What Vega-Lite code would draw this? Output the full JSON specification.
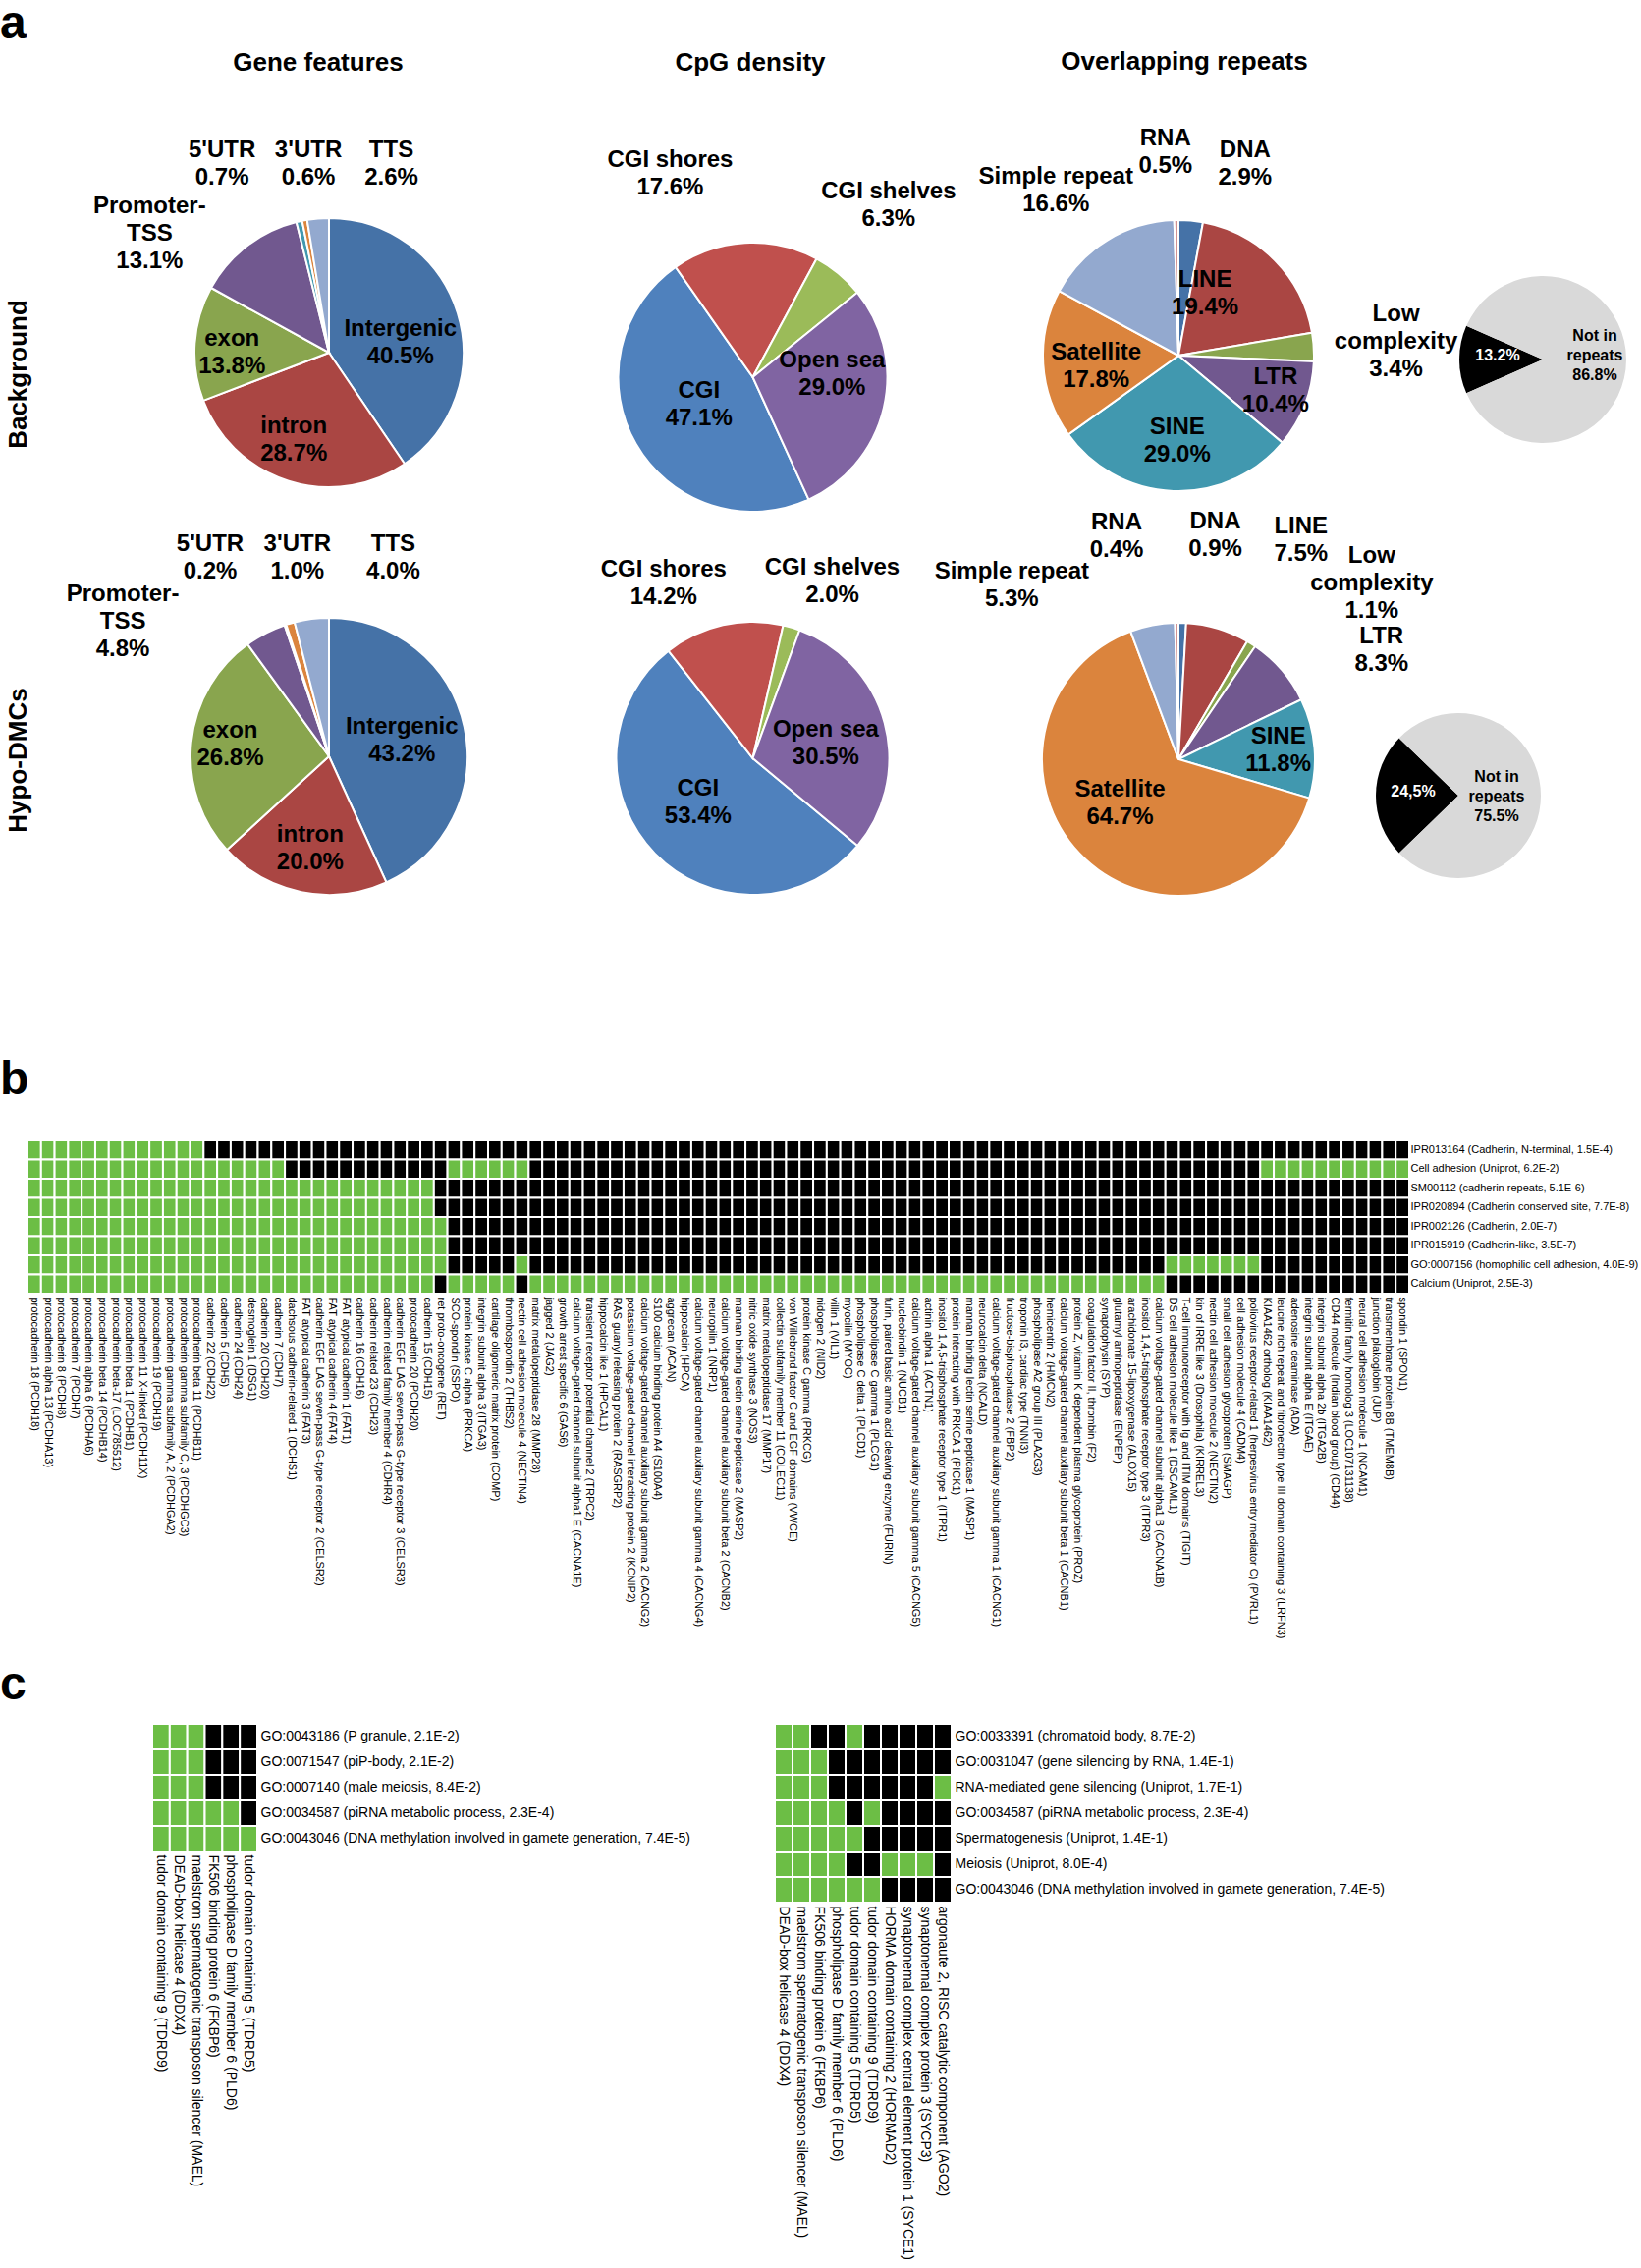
{
"$schema": "https://vega.github.io/schema/vega-lite/v6.json",
"background": "white",
"padding": 0,
"config": {
  "view": {"stroke": null},
  "font": "Liberation Sans",
  "axis": {"domain": false, "ticks": false, "grid": false, "labelColor": "#000000", "labelFont": "Liberation Sans"},
  "title": {"color": "#000000", "font": "Liberation Sans", "fontWeight": "bold"},
  "text": {"fontSize": 24, "fontWeight": "bold", "lineBreak": "\n", "lineHeight": 28}
},
"spacing": 0,
"bounds": "full",
"resolve": {"scale": {"color": "independent", "theta": "independent", "x": "independent", "y": "independent"}},
"vconcat": [
{
  "spacing": 0,
  "bounds": "flush",
  "resolve": {"scale": {"color": "independent", "theta": "independent", "x": "independent", "y": "independent"}},
  "hconcat": [
    {
      "width": 54, "height": 953,
      "title": {"text": "a", "anchor": "start", "frame": "group", "offset": 14.1, "baseline": "alphabetic", "fontSize": 48},
      "data": {"values": [{"set": "Background"}, {"set": "Hypo-DMCs"}]},
      "mark": {"type": "text", "angle": 270, "fontSize": 26, "fontWeight": "bold", "baseline": "alphabetic", "align": "center"},
      "encoding": {
        "y": {"field": "set", "type": "nominal", "scale": {"type": "point", "padding": 0.7125, "domain": ["Background", "Hypo-DMCs"]}, "axis": null},
        "text": {"field": "set", "type": "nominal"}
      }
    },
    {
      "width": 562, "height": 927,
      "title": {"text": "Gene features", "frame": "group", "offset": 3, "baseline": "alphabetic", "fontSize": 26, "dx": -11},
      "data": {"values": [
        {"set": "Background", "name": "Intergenic", "v": 40.5, "i": 1, "lab": "Intergenic\n40.5%"},
        {"set": "Background", "name": "intron", "v": 28.7, "i": 2, "lab": "intron\n28.7%"},
        {"set": "Background", "name": "exon", "v": 13.8, "i": 3, "lab": "exon\n13.8%"},
        {"set": "Background", "name": "Promoter-TSS", "v": 13.1, "i": 4, "lab": "Promoter-\nTSS\n13.1%"},
        {"set": "Background", "name": "5'UTR", "v": 0.7, "i": 5, "lab": "5'UTR\n0.7%"},
        {"set": "Background", "name": "3'UTR", "v": 0.6, "i": 6, "lab": "3'UTR\n0.6%"},
        {"set": "Background", "name": "TTS", "v": 2.6, "i": 7, "lab": "TTS\n2.6%"},
        {"set": "Hypo-DMCs", "name": "Intergenic", "v": 43.2, "i": 1, "lab": "Intergenic\n43.2%"},
        {"set": "Hypo-DMCs", "name": "intron", "v": 20.0, "i": 2, "lab": "intron\n20.0%"},
        {"set": "Hypo-DMCs", "name": "exon", "v": 26.8, "i": 3, "lab": "exon\n26.8%"},
        {"set": "Hypo-DMCs", "name": "Promoter-TSS", "v": 4.8, "i": 4, "lab": "Promoter-\nTSS\n4.8%"},
        {"set": "Hypo-DMCs", "name": "5'UTR", "v": 0.2, "i": 5, "lab": "5'UTR\n0.2%"},
        {"set": "Hypo-DMCs", "name": "3'UTR", "v": 1.0, "i": 6, "lab": "3'UTR\n1.0%"},
        {"set": "Hypo-DMCs", "name": "TTS", "v": 4.0, "i": 7, "lab": "TTS\n4.0%"}
      ]},
      "encoding": {
        "y": {"field": "set", "type": "nominal", "scale": {"type": "point", "padding": 0.62774, "domain": ["Background", "Hypo-DMCs"]}, "axis": null}
      },
      "resolve": {"scale": {"theta": "independent"}},
      "layer": [
        {
          "transform": [{"filter": "datum.set === 'Background'"}],
          "encoding": {
            "theta": {"field": "v", "type": "quantitative", "stack": true, "scale": {"range": [0, 6.28319], "nice": false}},
            "order": {"field": "i", "type": "quantitative"}
          },
          "layer": [
            {"mark": {"type": "arc", "outerRadius": 137, "stroke": "white", "strokeWidth": 2},
             "encoding": {"color": {"field": "name", "type": "nominal", "legend": null, "scale": {"domain": ["Intergenic", "intron", "exon", "Promoter-TSS", "5'UTR", "3'UTR", "TTS"], "range": ["#4572A7", "#AA4643", "#89A54E", "#71588F", "#4198AF", "#DB843D", "#93A9CF"]}}}},
            {"mark": {"type": "text", "radius": 73, "dx": 3, "dy": -3},
             "encoding": {"detail": {"field": "name", "type": "nominal"}, "text": {"condition": {"test": "datum.i === 1", "field": "lab"}, "value": ""}}},
            {"mark": {"type": "text", "radius": 96, "dx": -7, "dy": -17},
             "encoding": {"detail": {"field": "name", "type": "nominal"}, "text": {"condition": {"test": "datum.i === 2", "field": "lab"}, "value": ""}}},
            {"mark": {"type": "text", "radius": 99, "dx": 0, "dy": -7},
             "encoding": {"detail": {"field": "name", "type": "nominal"}, "text": {"condition": {"test": "datum.i === 3", "field": "lab"}, "value": ""}}},
            {"mark": {"type": "text", "radius": 219, "dx": -49, "dy": 24},
             "encoding": {"detail": {"field": "name", "type": "nominal"}, "text": {"condition": {"test": "datum.i === 4", "field": "lab"}, "value": ""}}},
            {"mark": {"type": "text", "radius": 221, "dx": -60, "dy": 10},
             "encoding": {"detail": {"field": "name", "type": "nominal"}, "text": {"condition": {"test": "datum.i === 5", "field": "lab"}, "value": ""}}},
            {"mark": {"type": "text", "radius": 193, "dx": 14, "dy": -16},
             "encoding": {"detail": {"field": "name", "type": "nominal"}, "text": {"condition": {"test": "datum.i === 6", "field": "lab"}, "value": ""}}},
            {"mark": {"type": "text", "radius": 202, "dx": 80, "dy": -5},
             "encoding": {"detail": {"field": "name", "type": "nominal"}, "text": {"condition": {"test": "datum.i === 7", "field": "lab"}, "value": ""}}}
          ]
        },
        {
          "transform": [{"filter": "datum.set === 'Hypo-DMCs'"}],
          "encoding": {
            "theta": {"field": "v", "type": "quantitative", "stack": true, "scale": {"range": [0, 6.28319], "nice": false}},
            "order": {"field": "i", "type": "quantitative"}
          },
          "layer": [
            {"mark": {"type": "arc", "outerRadius": 141, "stroke": "white", "strokeWidth": 2},
             "encoding": {"color": {"field": "name", "type": "nominal", "legend": null, "scale": {"domain": ["Intergenic", "intron", "exon", "Promoter-TSS", "5'UTR", "3'UTR", "TTS"], "range": ["#4572A7", "#AA4643", "#89A54E", "#71588F", "#4198AF", "#DB843D", "#93A9CF"]}}}},
            {"mark": {"type": "text", "radius": 76, "dx": 0, "dy": -14},
             "encoding": {"detail": {"field": "name", "type": "nominal"}, "text": {"condition": {"test": "datum.i === 1", "field": "lab"}, "value": ""}}},
            {"mark": {"type": "text", "radius": 96, "dx": 0, "dy": -14},
             "encoding": {"detail": {"field": "name", "type": "nominal"}, "text": {"condition": {"test": "datum.i === 2", "field": "lab"}, "value": ""}}},
            {"mark": {"type": "text", "radius": 101, "dx": 0, "dy": -16},
             "encoding": {"detail": {"field": "name", "type": "nominal"}, "text": {"condition": {"test": "datum.i === 3", "field": "lab"}, "value": ""}}},
            {"mark": {"type": "text", "radius": 150, "dx": -141, "dy": -32},
             "encoding": {"detail": {"field": "name", "type": "nominal"}, "text": {"condition": {"test": "datum.i === 4", "field": "lab"}, "value": ""}}},
            {"mark": {"type": "text", "radius": 235, "dx": -47, "dy": 7},
             "encoding": {"detail": {"field": "name", "type": "nominal"}, "text": {"condition": {"test": "datum.i === 5", "field": "lab"}, "value": ""}}},
            {"mark": {"type": "text", "radius": 205, "dx": 25, "dy": -19},
             "encoding": {"detail": {"field": "name", "type": "nominal"}, "text": {"condition": {"test": "datum.i === 6", "field": "lab"}, "value": ""}}},
            {"mark": {"type": "text", "radius": 212, "dx": 92, "dy": -6},
             "encoding": {"detail": {"field": "name", "type": "nominal"}, "text": {"condition": {"test": "datum.i === 7", "field": "lab"}, "value": ""}}}
          ]
        }
      ]
    },
    {
      "width": 301, "height": 954,
      "title": {"text": "CpG density", "frame": "group", "offset": 3, "baseline": "alphabetic", "fontSize": 26, "dx": -2.5},
      "data": {"values": [
        {"set": "Background", "name": "CGI", "v": 47.1, "i": 1, "lab": "CGI\n47.1%"},
        {"set": "Background", "name": "CGI shores", "v": 17.6, "i": 2, "lab": "CGI shores\n17.6%"},
        {"set": "Background", "name": "CGI shelves", "v": 6.3, "i": 3, "lab": "CGI shelves\n6.3%"},
        {"set": "Background", "name": "Open sea", "v": 29.0, "i": 4, "lab": "Open sea\n29.0%"},
        {"set": "Hypo-DMCs", "name": "CGI", "v": 53.4, "i": 1, "lab": "CGI\n53.4%"},
        {"set": "Hypo-DMCs", "name": "CGI shores", "v": 14.2, "i": 2, "lab": "CGI shores\n14.2%"},
        {"set": "Hypo-DMCs", "name": "CGI shelves", "v": 2.0, "i": 3, "lab": "CGI shelves\n2.0%"},
        {"set": "Hypo-DMCs", "name": "Open sea", "v": 30.5, "i": 4, "lab": "Open sea\n30.5%"}
      ]},
      "encoding": {
        "y": {"field": "set", "type": "nominal", "scale": {"type": "point", "padding": 0.72938, "domain": ["Background", "Hypo-DMCs"]}, "axis": null}
      },
      "resolve": {"scale": {"theta": "independent"}},
      "layer": [
        {
          "transform": [{"filter": "datum.set === 'Background'"}],
          "encoding": {
            "theta": {"field": "v", "type": "quantitative", "stack": true, "scale": {"range": [2.7123, 8.9955], "nice": false}},
            "order": {"field": "i", "type": "quantitative"}
          },
          "layer": [
            {"mark": {"type": "arc", "outerRadius": 137, "stroke": "white", "strokeWidth": 2},
             "encoding": {"color": {"field": "name", "type": "nominal", "legend": null, "scale": {"domain": ["CGI", "CGI shores", "CGI shelves", "Open sea"], "range": ["#4F81BD", "#C0504D", "#9BBB59", "#8064A2"]}}}},
            {"mark": {"type": "text", "radius": 62, "dx": -1, "dy": -17},
             "encoding": {"detail": {"field": "name", "type": "nominal"}, "text": {"condition": {"test": "datum.i === 1", "field": "lab"}, "value": ""}}},
            {"mark": {"type": "text", "radius": 223, "dx": -71, "dy": 2},
             "encoding": {"detail": {"field": "name", "type": "nominal"}, "text": {"condition": {"test": "datum.i === 2", "field": "lab"}, "value": ""}}},
            {"mark": {"type": "text", "radius": 223, "dx": -4, "dy": -17},
             "encoding": {"detail": {"field": "name", "type": "nominal"}, "text": {"condition": {"test": "datum.i === 3", "field": "lab"}, "value": ""}}},
            {"mark": {"type": "text", "radius": 81, "dx": 2, "dy": -36},
             "encoding": {"detail": {"field": "name", "type": "nominal"}, "text": {"condition": {"test": "datum.i === 4", "field": "lab"}, "value": ""}}}
          ]
        },
        {
          "transform": [{"filter": "datum.set === 'Hypo-DMCs'"}],
          "encoding": {
            "theta": {"field": "v", "type": "quantitative", "stack": true, "scale": {"range": [2.2654, 8.5486], "nice": false}},
            "order": {"field": "i", "type": "quantitative"}
          },
          "layer": [
            {"mark": {"type": "arc", "outerRadius": 139, "stroke": "white", "strokeWidth": 2},
             "encoding": {"color": {"field": "name", "type": "nominal", "legend": null, "scale": {"domain": ["CGI", "CGI shores", "CGI shelves", "Open sea"], "range": ["#4F81BD", "#C0504D", "#9BBB59", "#8064A2"]}}}},
            {"mark": {"type": "text", "radius": 72, "dx": -4, "dy": -19},
             "encoding": {"detail": {"field": "name", "type": "nominal"}, "text": {"condition": {"test": "datum.i === 1", "field": "lab"}, "value": ""}}},
            {"mark": {"type": "text", "radius": 200, "dx": -47, "dy": 3},
             "encoding": {"detail": {"field": "name", "type": "nominal"}, "text": {"condition": {"test": "datum.i === 2", "field": "lab"}, "value": ""}}},
            {"mark": {"type": "text", "radius": 197, "dx": 25, "dy": -5},
             "encoding": {"detail": {"field": "name", "type": "nominal"}, "text": {"condition": {"test": "datum.i === 3", "field": "lab"}, "value": ""}}},
            {"mark": {"type": "text", "radius": 76, "dx": 1, "dy": -9},
             "encoding": {"detail": {"field": "name", "type": "nominal"}, "text": {"condition": {"test": "datum.i === 4", "field": "lab"}, "value": ""}}}
          ]
        }
      ]
    },
    {
      "width": 566, "height": 933,
      "title": {"text": "Overlapping repeats", "frame": "group", "offset": 3, "baseline": "alphabetic", "fontSize": 26, "dx": 6},
      "data": {"values": [
        {"set": "Background", "name": "DNA", "v": 2.9, "i": 1, "lab": "DNA\n2.9%"},
        {"set": "Background", "name": "LINE", "v": 19.4, "i": 2, "lab": "LINE\n19.4%"},
        {"set": "Background", "name": "Low complexity", "v": 3.4, "i": 3, "lab": "Low\ncomplexity\n3.4%"},
        {"set": "Background", "name": "LTR", "v": 10.4, "i": 4, "lab": "LTR\n10.4%"},
        {"set": "Background", "name": "SINE", "v": 29.0, "i": 5, "lab": "SINE\n29.0%"},
        {"set": "Background", "name": "Satellite", "v": 17.8, "i": 6, "lab": "Satellite\n17.8%"},
        {"set": "Background", "name": "Simple repeat", "v": 16.6, "i": 7, "lab": "Simple repeat\n16.6%"},
        {"set": "Background", "name": "RNA", "v": 0.5, "i": 8, "lab": "RNA\n0.5%"},
        {"set": "Hypo-DMCs", "name": "DNA", "v": 0.9, "i": 1, "lab": "DNA\n0.9%"},
        {"set": "Hypo-DMCs", "name": "LINE", "v": 7.5, "i": 2, "lab": "LINE\n7.5%"},
        {"set": "Hypo-DMCs", "name": "Low complexity", "v": 1.1, "i": 3, "lab": "Low\ncomplexity\n1.1%"},
        {"set": "Hypo-DMCs", "name": "LTR", "v": 8.3, "i": 4, "lab": "LTR\n8.3%"},
        {"set": "Hypo-DMCs", "name": "SINE", "v": 11.8, "i": 5, "lab": "SINE\n11.8%"},
        {"set": "Hypo-DMCs", "name": "Satellite", "v": 64.7, "i": 6, "lab": "Satellite\n64.7%"},
        {"set": "Hypo-DMCs", "name": "Simple repeat", "v": 5.3, "i": 7, "lab": "Simple repeat\n5.3%"},
        {"set": "Hypo-DMCs", "name": "RNA", "v": 0.4, "i": 8, "lab": "RNA\n0.4%"}
      ]},
      "encoding": {
        "y": {"field": "set", "type": "nominal", "scale": {"type": "point", "padding": 0.63504, "domain": ["Background", "Hypo-DMCs"]}, "axis": null}
      },
      "resolve": {"scale": {"theta": "independent"}},
      "layer": [
        {
          "transform": [{"filter": "datum.set === 'Background'"}],
          "encoding": {
            "theta": {"field": "v", "type": "quantitative", "stack": true, "scale": {"range": [0, 6.28319], "nice": false}},
            "order": {"field": "i", "type": "quantitative"}
          },
          "layer": [
            {"mark": {"type": "arc", "outerRadius": 138, "stroke": "white", "strokeWidth": 2},
             "encoding": {"color": {"field": "name", "type": "nominal", "legend": null, "scale": {"domain": ["DNA", "LINE", "Low complexity", "LTR", "SINE", "Satellite", "Simple repeat", "RNA"], "range": ["#4572A7", "#AA4643", "#89A54E", "#71588F", "#4198AF", "#DB843D", "#93A9CF", "#D19392"]}}}},
            {"mark": {"type": "text", "radius": 207, "dx": 49, "dy": -3},
             "encoding": {"detail": {"field": "name", "type": "nominal"}, "text": {"condition": {"test": "datum.i === 1", "field": "lab"}, "value": ""}}},
            {"mark": {"type": "text", "radius": 69, "dx": -22, "dy": -29},
             "encoding": {"detail": {"field": "name", "type": "nominal"}, "text": {"condition": {"test": "datum.i === 2", "field": "lab"}, "value": ""}}},
            {"mark": {"type": "text", "radius": 222, "dx": 0, "dy": -28},
             "encoding": {"detail": {"field": "name", "type": "nominal"}, "text": {"condition": {"test": "datum.i === 3", "field": "lab"}, "value": ""}}},
            {"mark": {"type": "text", "radius": 105, "dx": 1, "dy": -16},
             "encoding": {"detail": {"field": "name", "type": "nominal"}, "text": {"condition": {"test": "datum.i === 4", "field": "lab"}, "value": ""}}},
            {"mark": {"type": "text", "radius": 87, "dx": 2, "dy": -14},
             "encoding": {"detail": {"field": "name", "type": "nominal"}, "text": {"condition": {"test": "datum.i === 5", "field": "lab"}, "value": ""}}},
            {"mark": {"type": "text", "radius": 85, "dx": 1, "dy": -8},
             "encoding": {"detail": {"field": "name", "type": "nominal"}, "text": {"condition": {"test": "datum.i === 6", "field": "lab"}, "value": ""}}},
            {"mark": {"type": "text", "radius": 209, "dx": -15, "dy": -4},
             "encoding": {"detail": {"field": "name", "type": "nominal"}, "text": {"condition": {"test": "datum.i === 7", "field": "lab"}, "value": ""}}},
            {"mark": {"type": "text", "radius": 207, "dx": -10, "dy": -14},
             "encoding": {"detail": {"field": "name", "type": "nominal"}, "text": {"condition": {"test": "datum.i === 8", "field": "lab"}, "value": ""}}}
          ]
        },
        {
          "transform": [{"filter": "datum.set === 'Hypo-DMCs'"}],
          "encoding": {
            "theta": {"field": "v", "type": "quantitative", "stack": true, "scale": {"range": [0, 6.28319], "nice": false}},
            "order": {"field": "i", "type": "quantitative"}
          },
          "layer": [
            {"mark": {"type": "arc", "outerRadius": 139, "stroke": "white", "strokeWidth": 2},
             "encoding": {"color": {"field": "name", "type": "nominal", "legend": null, "scale": {"domain": ["DNA", "LINE", "Low complexity", "LTR", "SINE", "Satellite", "Simple repeat", "RNA"], "range": ["#4572A7", "#AA4643", "#89A54E", "#71588F", "#4198AF", "#DB843D", "#93A9CF", "#D19392"]}}}},
            {"mark": {"type": "text", "radius": 231, "dx": 31, "dy": -11},
             "encoding": {"detail": {"field": "name", "type": "nominal"}, "text": {"condition": {"test": "datum.i === 1", "field": "lab"}, "value": ""}}},
            {"mark": {"type": "text", "radius": 256, "dx": 51, "dy": 8},
             "encoding": {"detail": {"field": "name", "type": "nominal"}, "text": {"condition": {"test": "datum.i === 2", "field": "lab"}, "value": ""}}},
            {"mark": {"type": "text", "radius": 266, "dx": 55, "dy": 18},
             "encoding": {"detail": {"field": "name", "type": "nominal"}, "text": {"condition": {"test": "datum.i === 3", "field": "lab"}, "value": ""}}},
            {"mark": {"type": "text", "radius": 235, "dx": 29, "dy": 29},
             "encoding": {"detail": {"field": "name", "type": "nominal"}, "text": {"condition": {"test": "datum.i === 4", "field": "lab"}, "value": ""}}},
            {"mark": {"type": "text", "radius": 102, "dx": 0, "dy": -15},
             "encoding": {"detail": {"field": "name", "type": "nominal"}, "text": {"condition": {"test": "datum.i === 5", "field": "lab"}, "value": ""}}},
            {"mark": {"type": "text", "radius": 74, "dx": -9, "dy": -23},
             "encoding": {"detail": {"field": "name", "type": "nominal"}, "text": {"condition": {"test": "datum.i === 6", "field": "lab"}, "value": ""}}},
            {"mark": {"type": "text", "radius": 245, "dx": -123, "dy": 50},
             "encoding": {"detail": {"field": "name", "type": "nominal"}, "text": {"condition": {"test": "datum.i === 7", "field": "lab"}, "value": ""}}},
            {"mark": {"type": "text", "radius": 236, "dx": -60, "dy": -5},
             "encoding": {"detail": {"field": "name", "type": "nominal"}, "text": {"condition": {"test": "datum.i === 8", "field": "lab"}, "value": ""}}}
          ]
        }
      ]
    },
    {
      "width": 90, "height": 974,
      "data": {"values": [
        {"set": "Background", "name": "In repeats", "v": 13.2, "i": 1, "lab": "13.2%"},
        {"set": "Background", "name": "Not in repeats", "v": 86.8, "i": 2, "lab": "Not in\nrepeats\n86.8%"},
        {"set": "Hypo-DMCs", "name": "In repeats", "v": 24.5, "i": 1, "lab": "24,5%"},
        {"set": "Hypo-DMCs", "name": "Not in repeats", "v": 75.5, "i": 2, "lab": "Not in\nrepeats\n75.5%"}
      ]},
      "encoding": {
        "x": {"field": "set", "type": "nominal", "scale": {"type": "point", "padding": 0.02326, "domain": ["Hypo-DMCs", "Background"]}, "axis": null},
        "y": {"field": "set", "type": "nominal", "scale": {"type": "point", "padding": 0.59685, "domain": ["Background", "Hypo-DMCs"]}, "axis": null}
      },
      "resolve": {"scale": {"theta": "independent"}},
      "layer": [
        {
          "transform": [{"filter": "datum.set === 'Background'"}],
          "encoding": {
            "theta": {"field": "v", "type": "quantitative", "stack": true, "scale": {"range": [4.2970, 10.5802], "nice": false}},
            "order": {"field": "i", "type": "quantitative"}
          },
          "layer": [
            {"mark": {"type": "arc", "outerRadius": 85},
             "encoding": {"color": {"field": "name", "type": "nominal", "legend": null, "scale": {"domain": ["In repeats", "Not in repeats"], "range": ["#000000", "#D9D9D9"]}}}},
            {"mark": {"type": "text", "radius": 46, "dy": -4, "fontSize": 16, "color": "white"},
             "encoding": {"detail": {"field": "name", "type": "nominal"}, "text": {"condition": {"test": "datum.i === 1", "field": "lab"}, "value": ""}}},
            {"mark": {"type": "text", "radius": 53, "dy": -24, "fontSize": 16, "lineHeight": 20},
             "encoding": {"detail": {"field": "name", "type": "nominal"}, "text": {"condition": {"test": "datum.i === 2", "field": "lab"}, "value": ""}}}
          ]
        },
        {
          "transform": [{"filter": "datum.set === 'Hypo-DMCs'"}],
          "encoding": {
            "theta": {"field": "v", "type": "quantitative", "stack": true, "scale": {"range": [3.9427, 10.2259], "nice": false}},
            "order": {"field": "i", "type": "quantitative"}
          },
          "layer": [
            {"mark": {"type": "arc", "outerRadius": 84},
             "encoding": {"color": {"field": "name", "type": "nominal", "legend": null, "scale": {"domain": ["In repeats", "Not in repeats"], "range": ["#000000", "#D9D9D9"]}}}},
            {"mark": {"type": "text", "radius": 46, "dy": -4, "fontSize": 16, "color": "white"},
             "encoding": {"detail": {"field": "name", "type": "nominal"}, "text": {"condition": {"test": "datum.i === 1", "field": "lab"}, "value": ""}}},
            {"mark": {"type": "text", "radius": 39, "dy": -19, "fontSize": 16, "lineHeight": 20},
             "encoding": {"detail": {"field": "name", "type": "nominal"}, "text": {"condition": {"test": "datum.i === 2", "field": "lab"}, "value": ""}}}
          ]
        }
      ]
    }
  ]
},
{
  "spacing": 0,
  "bounds": "flush",
  "resolve": {"scale": {"color": "independent", "x": "independent", "y": "independent"}},
  "hconcat": [
    {"width": 28, "height": 156,
     "title": {"text": "b", "anchor": "start", "frame": "group", "offset": -0.9, "baseline": "alphabetic", "fontSize": 48},
     "data": {"values": [{}]}, "mark": {"type": "text", "text": ""}, "encoding": {}},
    {
      "width": 1407, "height": 156,
      "data": {"values": [
        {"g": "protocadherin 18 (PCDH18)", "r1": 1, "r2": 1, "r3": 1, "r4": 1, "r5": 1, "r6": 1, "r7": 1, "r8": 1},
        {"g": "protocadherin alpha 13 (PCDHA13)", "r1": 1, "r2": 1, "r3": 1, "r4": 1, "r5": 1, "r6": 1, "r7": 1, "r8": 1},
        {"g": "protocadherin 8 (PCDH8)", "r1": 1, "r2": 1, "r3": 1, "r4": 1, "r5": 1, "r6": 1, "r7": 1, "r8": 1},
        {"g": "protocadherin 7 (PCDH7)", "r1": 1, "r2": 1, "r3": 1, "r4": 1, "r5": 1, "r6": 1, "r7": 1, "r8": 1},
        {"g": "protocadherin alpha 6 (PCDHA6)", "r1": 1, "r2": 1, "r3": 1, "r4": 1, "r5": 1, "r6": 1, "r7": 1, "r8": 1},
        {"g": "protocadherin beta 14 (PCDHB14)", "r1": 1, "r2": 1, "r3": 1, "r4": 1, "r5": 1, "r6": 1, "r7": 1, "r8": 1},
        {"g": "protocadherin beta-17 (LOC785512)", "r1": 1, "r2": 1, "r3": 1, "r4": 1, "r5": 1, "r6": 1, "r7": 1, "r8": 1},
        {"g": "protocadherin beta 1 (PCDHB1)", "r1": 1, "r2": 1, "r3": 1, "r4": 1, "r5": 1, "r6": 1, "r7": 1, "r8": 1},
        {"g": "protocadherin 11 X-linked (PCDH11X)", "r1": 1, "r2": 1, "r3": 1, "r4": 1, "r5": 1, "r6": 1, "r7": 1, "r8": 1},
        {"g": "protocadherin 19 (PCDH19)", "r1": 1, "r2": 1, "r3": 1, "r4": 1, "r5": 1, "r6": 1, "r7": 1, "r8": 1},
        {"g": "protocadherin gamma subfamily A, 2 (PCDHGA2)", "r1": 1, "r2": 1, "r3": 1, "r4": 1, "r5": 1, "r6": 1, "r7": 1, "r8": 1},
        {"g": "protocadherin gamma subfamily C, 3 (PCDHGC3)", "r1": 1, "r2": 1, "r3": 1, "r4": 1, "r5": 1, "r6": 1, "r7": 1, "r8": 1},
        {"g": "protocadherin beta 11 (PCDHB11)", "r1": 1, "r2": 1, "r3": 1, "r4": 1, "r5": 1, "r6": 1, "r7": 1, "r8": 1},
        {"g": "cadherin 22 (CDH22)", "r1": 0, "r2": 1, "r3": 1, "r4": 1, "r5": 1, "r6": 1, "r7": 1, "r8": 1},
        {"g": "cadherin 5 (CDH5)", "r1": 0, "r2": 1, "r3": 1, "r4": 1, "r5": 1, "r6": 1, "r7": 1, "r8": 1},
        {"g": "cadherin 24 (CDH24)", "r1": 0, "r2": 1, "r3": 1, "r4": 1, "r5": 1, "r6": 1, "r7": 1, "r8": 1},
        {"g": "desmoglein 1 (DSG1)", "r1": 0, "r2": 1, "r3": 1, "r4": 1, "r5": 1, "r6": 1, "r7": 1, "r8": 1},
        {"g": "cadherin 20 (CDH20)", "r1": 0, "r2": 1, "r3": 1, "r4": 1, "r5": 1, "r6": 1, "r7": 1, "r8": 1},
        {"g": "cadherin 7 (CDH7)", "r1": 0, "r2": 1, "r3": 1, "r4": 1, "r5": 1, "r6": 1, "r7": 1, "r8": 1},
        {"g": "dachsous cadherin-related 1 (DCHS1)", "r1": 0, "r2": 0, "r3": 1, "r4": 1, "r5": 1, "r6": 1, "r7": 1, "r8": 1},
        {"g": "FAT atypical cadherin 3 (FAT3)", "r1": 0, "r2": 0, "r3": 1, "r4": 1, "r5": 1, "r6": 1, "r7": 1, "r8": 1},
        {"g": "cadherin EGF LAG seven-pass G-type receptor 2 (CELSR2)", "r1": 0, "r2": 0, "r3": 1, "r4": 1, "r5": 1, "r6": 1, "r7": 1, "r8": 1},
        {"g": "FAT atypical cadherin 4 (FAT4)", "r1": 0, "r2": 0, "r3": 1, "r4": 1, "r5": 1, "r6": 1, "r7": 1, "r8": 1},
        {"g": "FAT atypical cadherin 1 (FAT1)", "r1": 0, "r2": 0, "r3": 1, "r4": 1, "r5": 1, "r6": 1, "r7": 1, "r8": 1},
        {"g": "cadherin 16 (CDH16)", "r1": 0, "r2": 0, "r3": 1, "r4": 1, "r5": 1, "r6": 1, "r7": 1, "r8": 1},
        {"g": "cadherin related 23 (CDH23)", "r1": 0, "r2": 0, "r3": 1, "r4": 1, "r5": 1, "r6": 1, "r7": 1, "r8": 1},
        {"g": "cadherin related family member 4 (CDHR4)", "r1": 0, "r2": 0, "r3": 1, "r4": 1, "r5": 1, "r6": 1, "r7": 1, "r8": 1},
        {"g": "cadherin EGF LAG seven-pass G-type receptor 3 (CELSR3)", "r1": 0, "r2": 0, "r3": 1, "r4": 1, "r5": 1, "r6": 1, "r7": 1, "r8": 1},
        {"g": "protocadherin 20 (PCDH20)", "r1": 0, "r2": 0, "r3": 1, "r4": 1, "r5": 1, "r6": 1, "r7": 1, "r8": 1},
        {"g": "cadherin 15 (CDH15)", "r1": 0, "r2": 0, "r3": 1, "r4": 1, "r5": 1, "r6": 1, "r7": 1, "r8": 1},
        {"g": "ret proto-oncogene (RET)", "r1": 0, "r2": 0, "r3": 0, "r4": 0, "r5": 1, "r6": 1, "r7": 1, "r8": 0},
        {"g": "SCO-spondin (SSPO)", "r1": 0, "r2": 1, "r3": 0, "r4": 0, "r5": 0, "r6": 0, "r7": 0, "r8": 1},
        {"g": "protein kinase C alpha (PRKCA)", "r1": 0, "r2": 1, "r3": 0, "r4": 0, "r5": 0, "r6": 0, "r7": 0, "r8": 1},
        {"g": "integrin subunit alpha 3 (ITGA3)", "r1": 0, "r2": 1, "r3": 0, "r4": 0, "r5": 0, "r6": 0, "r7": 0, "r8": 1},
        {"g": "cartilage oligomeric matrix protein (COMP)", "r1": 0, "r2": 1, "r3": 0, "r4": 0, "r5": 0, "r6": 0, "r7": 0, "r8": 1},
        {"g": "thrombospondin 2 (THBS2)", "r1": 0, "r2": 1, "r3": 0, "r4": 0, "r5": 0, "r6": 0, "r7": 0, "r8": 1},
        {"g": "nectin cell adhesion molecule 4 (NECTIN4)", "r1": 0, "r2": 1, "r3": 0, "r4": 0, "r5": 0, "r6": 0, "r7": 1, "r8": 0},
        {"g": "matrix metallopeptidase 28 (MMP28)", "r1": 0, "r2": 0, "r3": 0, "r4": 0, "r5": 0, "r6": 0, "r7": 0, "r8": 1},
        {"g": "jagged 2 (JAG2)", "r1": 0, "r2": 0, "r3": 0, "r4": 0, "r5": 0, "r6": 0, "r7": 0, "r8": 1},
        {"g": "growth arrest specific 6 (GAS6)", "r1": 0, "r2": 0, "r3": 0, "r4": 0, "r5": 0, "r6": 0, "r7": 0, "r8": 1},
        {"g": "calcium voltage-gated channel subunit alpha1 E (CACNA1E)", "r1": 0, "r2": 0, "r3": 0, "r4": 0, "r5": 0, "r6": 0, "r7": 0, "r8": 1},
        {"g": "transient receptor potential channel 2 (TRPC2)", "r1": 0, "r2": 0, "r3": 0, "r4": 0, "r5": 0, "r6": 0, "r7": 0, "r8": 1},
        {"g": "hippocalcin like 1 (HPCAL1)", "r1": 0, "r2": 0, "r3": 0, "r4": 0, "r5": 0, "r6": 0, "r7": 0, "r8": 1},
        {"g": "RAS guanyl releasing protein 2 (RASGRP2)", "r1": 0, "r2": 0, "r3": 0, "r4": 0, "r5": 0, "r6": 0, "r7": 0, "r8": 1},
        {"g": "potassium voltage-gated channel interacting protein 2 (KCNIP2)", "r1": 0, "r2": 0, "r3": 0, "r4": 0, "r5": 0, "r6": 0, "r7": 0, "r8": 1},
        {"g": "calcium voltage-gated channel auxiliary subunit gamma 2 (CACNG2)", "r1": 0, "r2": 0, "r3": 0, "r4": 0, "r5": 0, "r6": 0, "r7": 0, "r8": 1},
        {"g": "S100 calcium binding protein A4 (S100A4)", "r1": 0, "r2": 0, "r3": 0, "r4": 0, "r5": 0, "r6": 0, "r7": 0, "r8": 1},
        {"g": "aggrecan (ACAN)", "r1": 0, "r2": 0, "r3": 0, "r4": 0, "r5": 0, "r6": 0, "r7": 0, "r8": 1},
        {"g": "hippocalcin (HPCA)", "r1": 0, "r2": 0, "r3": 0, "r4": 0, "r5": 0, "r6": 0, "r7": 0, "r8": 1},
        {"g": "calcium voltage-gated channel auxiliary subunit gamma 4 (CACNG4)", "r1": 0, "r2": 0, "r3": 0, "r4": 0, "r5": 0, "r6": 0, "r7": 0, "r8": 1},
        {"g": "neuropilin 1 (NRP1)", "r1": 0, "r2": 0, "r3": 0, "r4": 0, "r5": 0, "r6": 0, "r7": 0, "r8": 1},
        {"g": "calcium voltage-gated channel auxiliary subunit beta 2 (CACNB2)", "r1": 0, "r2": 0, "r3": 0, "r4": 0, "r5": 0, "r6": 0, "r7": 0, "r8": 1},
        {"g": "mannan binding lectin serine peptidase 2 (MASP2)", "r1": 0, "r2": 0, "r3": 0, "r4": 0, "r5": 0, "r6": 0, "r7": 0, "r8": 1},
        {"g": "nitric oxide synthase 3 (NOS3)", "r1": 0, "r2": 0, "r3": 0, "r4": 0, "r5": 0, "r6": 0, "r7": 0, "r8": 1},
        {"g": "matrix metallopeptidase 17 (MMP17)", "r1": 0, "r2": 0, "r3": 0, "r4": 0, "r5": 0, "r6": 0, "r7": 0, "r8": 1},
        {"g": "collectin subfamily member 11 (COLEC11)", "r1": 0, "r2": 0, "r3": 0, "r4": 0, "r5": 0, "r6": 0, "r7": 0, "r8": 1},
        {"g": "von Willebrand factor C and EGF domains (VWCE)", "r1": 0, "r2": 0, "r3": 0, "r4": 0, "r5": 0, "r6": 0, "r7": 0, "r8": 1},
        {"g": "protein kinase C gamma (PRKCG)", "r1": 0, "r2": 0, "r3": 0, "r4": 0, "r5": 0, "r6": 0, "r7": 0, "r8": 1},
        {"g": "nidogen 2 (NID2)", "r1": 0, "r2": 0, "r3": 0, "r4": 0, "r5": 0, "r6": 0, "r7": 0, "r8": 1},
        {"g": "villin 1 (VIL1)", "r1": 0, "r2": 0, "r3": 0, "r4": 0, "r5": 0, "r6": 0, "r7": 0, "r8": 1},
        {"g": "myocilin (MYOC)", "r1": 0, "r2": 0, "r3": 0, "r4": 0, "r5": 0, "r6": 0, "r7": 0, "r8": 1},
        {"g": "phospholipase C delta 1 (PLCD1)", "r1": 0, "r2": 0, "r3": 0, "r4": 0, "r5": 0, "r6": 0, "r7": 0, "r8": 1},
        {"g": "phospholipase C gamma 1 (PLCG1)", "r1": 0, "r2": 0, "r3": 0, "r4": 0, "r5": 0, "r6": 0, "r7": 0, "r8": 1},
        {"g": "furin, paired basic amino acid cleaving enzyme (FURIN)", "r1": 0, "r2": 0, "r3": 0, "r4": 0, "r5": 0, "r6": 0, "r7": 0, "r8": 1},
        {"g": "nucleobindin 1 (NUCB1)", "r1": 0, "r2": 0, "r3": 0, "r4": 0, "r5": 0, "r6": 0, "r7": 0, "r8": 1},
        {"g": "calcium voltage-gated channel auxiliary subunit gamma 5 (CACNG5)", "r1": 0, "r2": 0, "r3": 0, "r4": 0, "r5": 0, "r6": 0, "r7": 0, "r8": 1},
        {"g": "actinin alpha 1 (ACTN1)", "r1": 0, "r2": 0, "r3": 0, "r4": 0, "r5": 0, "r6": 0, "r7": 0, "r8": 1},
        {"g": "inositol 1,4,5-trisphosphate receptor type 1 (ITPR1)", "r1": 0, "r2": 0, "r3": 0, "r4": 0, "r5": 0, "r6": 0, "r7": 0, "r8": 1},
        {"g": "protein interacting with PRKCA 1 (PICK1)", "r1": 0, "r2": 0, "r3": 0, "r4": 0, "r5": 0, "r6": 0, "r7": 0, "r8": 1},
        {"g": "mannan binding lectin serine peptidase 1 (MASP1)", "r1": 0, "r2": 0, "r3": 0, "r4": 0, "r5": 0, "r6": 0, "r7": 0, "r8": 1},
        {"g": "neurocalcin delta (NCALD)", "r1": 0, "r2": 0, "r3": 0, "r4": 0, "r5": 0, "r6": 0, "r7": 0, "r8": 1},
        {"g": "calcium voltage-gated channel auxiliary subunit gamma 1 (CACNG1)", "r1": 0, "r2": 0, "r3": 0, "r4": 0, "r5": 0, "r6": 0, "r7": 0, "r8": 1},
        {"g": "fructose-bisphosphatase 2 (FBP2)", "r1": 0, "r2": 0, "r3": 0, "r4": 0, "r5": 0, "r6": 0, "r7": 0, "r8": 1},
        {"g": "troponin I3, cardiac type (TNNI3)", "r1": 0, "r2": 0, "r3": 0, "r4": 0, "r5": 0, "r6": 0, "r7": 0, "r8": 1},
        {"g": "phospholipase A2 group III (PLA2G3)", "r1": 0, "r2": 0, "r3": 0, "r4": 0, "r5": 0, "r6": 0, "r7": 0, "r8": 1},
        {"g": "hemicentin 2 (HMCN2)", "r1": 0, "r2": 0, "r3": 0, "r4": 0, "r5": 0, "r6": 0, "r7": 0, "r8": 1},
        {"g": "calcium voltage-gated channel auxiliary subunit beta 1 (CACNB1)", "r1": 0, "r2": 0, "r3": 0, "r4": 0, "r5": 0, "r6": 0, "r7": 0, "r8": 1},
        {"g": "protein Z, vitamin K dependent plasma glycoprotein (PROZ)", "r1": 0, "r2": 0, "r3": 0, "r4": 0, "r5": 0, "r6": 0, "r7": 0, "r8": 1},
        {"g": "coagulation factor II, thrombin (F2)", "r1": 0, "r2": 0, "r3": 0, "r4": 0, "r5": 0, "r6": 0, "r7": 0, "r8": 1},
        {"g": "synaptophysin (SYP)", "r1": 0, "r2": 0, "r3": 0, "r4": 0, "r5": 0, "r6": 0, "r7": 0, "r8": 1},
        {"g": "glutamyl aminopeptidase (ENPEP)", "r1": 0, "r2": 0, "r3": 0, "r4": 0, "r5": 0, "r6": 0, "r7": 0, "r8": 1},
        {"g": "arachidonate 15-lipoxygenase (ALOX15)", "r1": 0, "r2": 0, "r3": 0, "r4": 0, "r5": 0, "r6": 0, "r7": 0, "r8": 1},
        {"g": "inositol 1,4,5-trisphosphate receptor type 3 (ITPR3)", "r1": 0, "r2": 0, "r3": 0, "r4": 0, "r5": 0, "r6": 0, "r7": 0, "r8": 1},
        {"g": "calcium voltage-gated channel subunit alpha1 B (CACNA1B)", "r1": 0, "r2": 0, "r3": 0, "r4": 0, "r5": 0, "r6": 0, "r7": 0, "r8": 1},
        {"g": "DS cell adhesion molecule like 1 (DSCAML1)", "r1": 0, "r2": 0, "r3": 0, "r4": 0, "r5": 0, "r6": 0, "r7": 1, "r8": 0},
        {"g": "T-cell immunoreceptor with Ig and ITIM domains (TIGIT)", "r1": 0, "r2": 0, "r3": 0, "r4": 0, "r5": 0, "r6": 0, "r7": 1, "r8": 0},
        {"g": "kin of IRRE like 3 (Drosophila) (KIRREL3)", "r1": 0, "r2": 0, "r3": 0, "r4": 0, "r5": 0, "r6": 0, "r7": 1, "r8": 0},
        {"g": "nectin cell adhesion molecule 2 (NECTIN2)", "r1": 0, "r2": 0, "r3": 0, "r4": 0, "r5": 0, "r6": 0, "r7": 1, "r8": 0},
        {"g": "small cell adhesion glycoprotein (SMAGP)", "r1": 0, "r2": 0, "r3": 0, "r4": 0, "r5": 0, "r6": 0, "r7": 1, "r8": 0},
        {"g": "cell adhesion molecule 4 (CADM4)", "r1": 0, "r2": 0, "r3": 0, "r4": 0, "r5": 0, "r6": 0, "r7": 1, "r8": 0},
        {"g": "poliovirus receptor-related 1 (herpesvirus entry mediator C) (PVRL1)", "r1": 0, "r2": 0, "r3": 0, "r4": 0, "r5": 0, "r6": 0, "r7": 1, "r8": 0},
        {"g": "KIAA1462 ortholog (KIAA1462)", "r1": 0, "r2": 1, "r3": 0, "r4": 0, "r5": 0, "r6": 0, "r7": 0, "r8": 0},
        {"g": "leucine rich repeat and fibronectin type III domain containing 3 (LRFN3)", "r1": 0, "r2": 1, "r3": 0, "r4": 0, "r5": 0, "r6": 0, "r7": 0, "r8": 0},
        {"g": "adenosine deaminase (ADA)", "r1": 0, "r2": 1, "r3": 0, "r4": 0, "r5": 0, "r6": 0, "r7": 0, "r8": 0},
        {"g": "integrin subunit alpha E (ITGAE)", "r1": 0, "r2": 1, "r3": 0, "r4": 0, "r5": 0, "r6": 0, "r7": 0, "r8": 0},
        {"g": "integrin subunit alpha 2b (ITGA2B)", "r1": 0, "r2": 1, "r3": 0, "r4": 0, "r5": 0, "r6": 0, "r7": 0, "r8": 0},
        {"g": "CD44 molecule (Indian blood group) (CD44)", "r1": 0, "r2": 1, "r3": 0, "r4": 0, "r5": 0, "r6": 0, "r7": 0, "r8": 0},
        {"g": "fermitin family homolog 3 (LOC107131138)", "r1": 0, "r2": 1, "r3": 0, "r4": 0, "r5": 0, "r6": 0, "r7": 0, "r8": 0},
        {"g": "neural cell adhesion molecule 1 (NCAM1)", "r1": 0, "r2": 1, "r3": 0, "r4": 0, "r5": 0, "r6": 0, "r7": 0, "r8": 0},
        {"g": "junction plakoglobin (JUP)", "r1": 0, "r2": 1, "r3": 0, "r4": 0, "r5": 0, "r6": 0, "r7": 0, "r8": 0},
        {"g": "transmembrane protein 8B (TMEM8B)", "r1": 0, "r2": 1, "r3": 0, "r4": 0, "r5": 0, "r6": 0, "r7": 0, "r8": 0},
        {"g": "spondin 1 (SPON1)", "r1": 0, "r2": 1, "r3": 0, "r4": 0, "r5": 0, "r6": 0, "r7": 0, "r8": 0}
      ]},
      "transform": [{"fold": ["r1", "r2", "r3", "r4", "r5", "r6", "r7", "r8"], "as": ["term", "m"]}],
      "mark": {"type": "rect", "stroke": "white", "strokeWidth": 2},
      "encoding": {
        "x": {"field": "g", "type": "nominal", "sort": null, "scale": {"paddingInner": 0, "paddingOuter": 0},
              "axis": {"orient": "bottom", "title": null, "labelAngle": 90, "labelAlign": "left", "labelBaseline": "middle", "labelPadding": 3, "labelFontSize": 11, "labelLimit": 0, "labelOverlap": false}},
        "y": {"field": "term", "type": "nominal", "scale": {"paddingInner": 0, "paddingOuter": 0},
              "axis": {"orient": "right", "title": null, "labelPadding": 1, "labelFontSize": 11, "labelLimit": 0, "labelOverlap": false,
                       "labelExpr": "{'r1': 'IPR013164 (Cadherin, N-terminal, 1.5E-4)', 'r2': 'Cell adhesion (Uniprot, 6.2E-2)', 'r3': 'SM00112 (cadherin repeats, 5.1E-6)', 'r4': 'IPR020894 (Cadherin conserved site, 7.7E-8)', 'r5': 'IPR002126 (Cadherin, 2.0E-7)', 'r6': 'IPR015919 (Cadherin-like, 3.5E-7)', 'r7': 'GO:0007156 (homophilic cell adhesion, 4.0E-9)', 'r8': 'Calcium (Uniprot, 2.5E-3)'}[datum.value]"}},
        "color": {"field": "m", "type": "nominal", "legend": null, "scale": {"domain": [1, 0], "range": ["#6CBE45", "#000000"]}}
      }
    }
  ]
},
{"width": 1, "height": 6, "data": {"values": [{}]}, "mark": {"type": "text", "text": ""}, "encoding": {}},
{
  "spacing": 0,
  "bounds": "flush",
  "resolve": {"scale": {"color": "independent", "x": "independent", "y": "independent"}},
  "hconcat": [
    {"width": 155, "height": 130,
     "title": {"text": "c", "anchor": "start", "frame": "group", "offset": -23, "baseline": "alphabetic", "fontSize": 48},
     "data": {"values": [{}]}, "mark": {"type": "text", "text": ""}, "encoding": {}},
    {
      "width": 107, "height": 130,
      "data": {"values": [
        {"g": "tudor domain containing 9 (TDRD9)", "r1": 1, "r2": 1, "r3": 1, "r4": 1, "r5": 1},
        {"g": "DEAD-box helicase 4 (DDX4)", "r1": 1, "r2": 1, "r3": 1, "r4": 1, "r5": 1},
        {"g": "maelstrom spermatogenic transposon silencer (MAEL)", "r1": 1, "r2": 1, "r3": 1, "r4": 1, "r5": 1},
        {"g": "FK506 binding protein 6 (FKBP6)", "r1": 0, "r2": 0, "r3": 0, "r4": 1, "r5": 1},
        {"g": "phospholipase D family member 6 (PLD6)", "r1": 0, "r2": 0, "r3": 0, "r4": 1, "r5": 1},
        {"g": "tudor domain containing 5 (TDRD5)", "r1": 0, "r2": 0, "r3": 0, "r4": 0, "r5": 1}
      ]},
      "transform": [{"fold": ["r1", "r2", "r3", "r4", "r5"], "as": ["term", "m"]}],
      "mark": {"type": "rect", "stroke": "white", "strokeWidth": 2},
      "encoding": {
        "x": {"field": "g", "type": "nominal", "sort": null, "scale": {"paddingInner": 0, "paddingOuter": 0},
              "axis": {"orient": "bottom", "title": null, "labelAngle": 90, "labelAlign": "left", "labelBaseline": "middle", "labelPadding": 3, "labelFontSize": 14, "labelLimit": 0, "labelOverlap": false}},
        "y": {"field": "term", "type": "nominal", "scale": {"paddingInner": 0, "paddingOuter": 0},
              "axis": {"orient": "right", "title": null, "labelPadding": 3, "labelFontSize": 14, "labelLimit": 0, "labelOverlap": false,
                       "labelExpr": "{'r1': 'GO:0043186 (P granule, 2.1E-2)', 'r2': 'GO:0071547 (piP-body, 2.1E-2)', 'r3': 'GO:0007140 (male meiosis, 8.4E-2)', 'r4': 'GO:0034587 (piRNA metabolic process, 2.3E-4)', 'r5': 'GO:0043046 (DNA methylation involved in gamete generation, 7.4E-5)'}[datum.value]"}},
        "color": {"field": "m", "type": "nominal", "legend": null, "scale": {"domain": [1, 0], "range": ["#6CBE45", "#000000"]}}
      }
    },
    {"width": 527, "height": 130, "data": {"values": [{}]}, "mark": {"type": "text", "text": ""}, "encoding": {}},
    {
      "width": 180, "height": 182,
      "data": {"values": [
        {"g": "DEAD-box helicase 4 (DDX4)", "r1": 1, "r2": 1, "r3": 1, "r4": 1, "r5": 1, "r6": 1, "r7": 1},
        {"g": "maelstrom spermatogenic transposon silencer (MAEL)", "r1": 1, "r2": 1, "r3": 1, "r4": 1, "r5": 1, "r6": 1, "r7": 1},
        {"g": "FK506 binding protein 6 (FKBP6)", "r1": 0, "r2": 1, "r3": 1, "r4": 1, "r5": 1, "r6": 1, "r7": 1},
        {"g": "phospholipase D family member 6 (PLD6)", "r1": 0, "r2": 0, "r3": 0, "r4": 1, "r5": 1, "r6": 1, "r7": 1},
        {"g": "tudor domain containing 5 (TDRD5)", "r1": 1, "r2": 0, "r3": 0, "r4": 0, "r5": 1, "r6": 0, "r7": 1},
        {"g": "tudor domain containing 9 (TDRD9)", "r1": 0, "r2": 0, "r3": 0, "r4": 1, "r5": 0, "r6": 0, "r7": 1},
        {"g": "HORMA domain containing 2 (HORMAD2)", "r1": 0, "r2": 0, "r3": 0, "r4": 0, "r5": 0, "r6": 1, "r7": 0},
        {"g": "synaptonemal complex central element protein 1 (SYCE1)", "r1": 0, "r2": 0, "r3": 0, "r4": 0, "r5": 0, "r6": 1, "r7": 0},
        {"g": "synaptonemal complex protein 3 (SYCP3)", "r1": 0, "r2": 0, "r3": 0, "r4": 0, "r5": 0, "r6": 1, "r7": 0},
        {"g": "argonaute 2, RISC catalytic component (AGO2)", "r1": 0, "r2": 0, "r3": 1, "r4": 0, "r5": 0, "r6": 0, "r7": 0}
      ]},
      "transform": [{"fold": ["r1", "r2", "r3", "r4", "r5", "r6", "r7"], "as": ["term", "m"]}],
      "mark": {"type": "rect", "stroke": "white", "strokeWidth": 2},
      "encoding": {
        "x": {"field": "g", "type": "nominal", "sort": null, "scale": {"paddingInner": 0, "paddingOuter": 0},
              "axis": {"orient": "bottom", "title": null, "labelAngle": 90, "labelAlign": "left", "labelBaseline": "middle", "labelPadding": 3, "labelFontSize": 14, "labelLimit": 0, "labelOverlap": false}},
        "y": {"field": "term", "type": "nominal", "scale": {"paddingInner": 0, "paddingOuter": 0},
              "axis": {"orient": "right", "title": null, "labelPadding": 3, "labelFontSize": 14, "labelLimit": 0, "labelOverlap": false,
                       "labelExpr": "{'r1': 'GO:0033391 (chromatoid body, 8.7E-2)', 'r2': 'GO:0031047 (gene silencing by RNA, 1.4E-1)', 'r3': 'RNA-mediated gene silencing (Uniprot, 1.7E-1)', 'r4': 'GO:0034587 (piRNA metabolic process, 2.3E-4)', 'r5': 'Spermatogenesis (Uniprot, 1.4E-1)', 'r6': 'Meiosis (Uniprot, 8.0E-4)', 'r7': 'GO:0043046 (DNA methylation involved in gamete generation, 7.4E-5)'}[datum.value]"}},
        "color": {"field": "m", "type": "nominal", "legend": null, "scale": {"domain": [1, 0], "range": ["#6CBE45", "#000000"]}}
      }
    }
  ]
}
]
}
